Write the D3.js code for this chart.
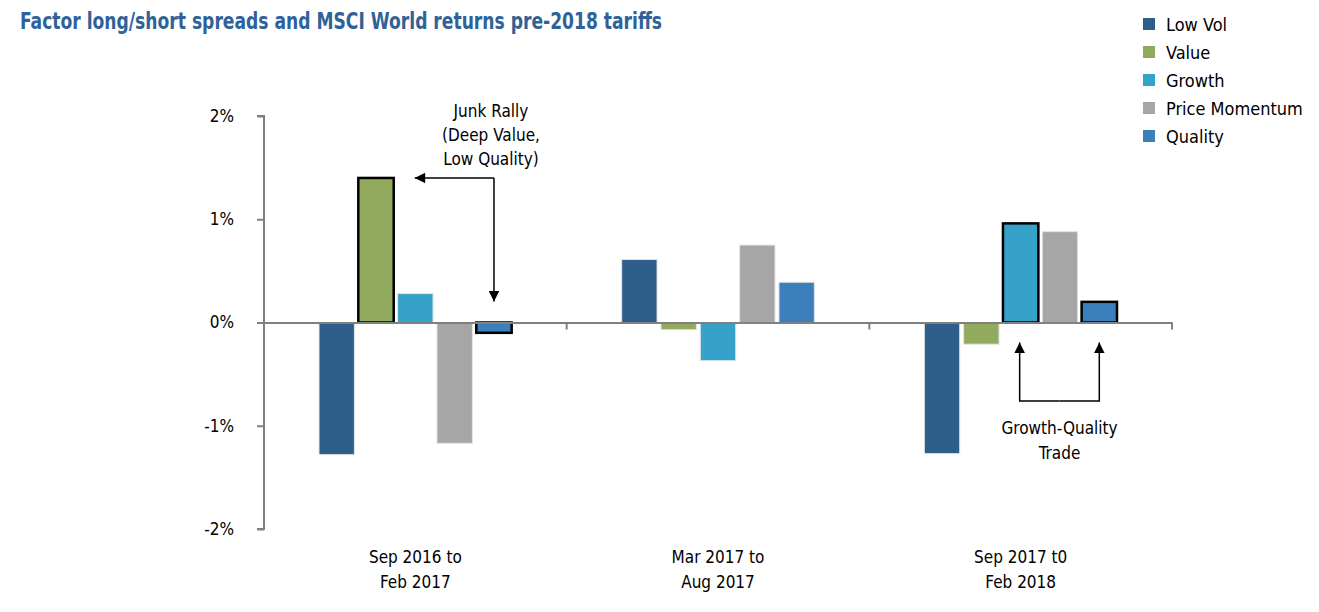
<!DOCTYPE html>
<html>
<head>
<meta charset="utf-8">
<script src="https://cdn.jsdelivr.net/npm/d3@7"></script>
<style>
  body { margin: 0; background: #fff; }
  text { font-family: "Liberation Sans Narrow", "DejaVu Sans Condensed", "Roboto Condensed", sans-serif; }
</style>
</head>
<body>
<script>
const SvgWidth = 1319, SvgHeight = 612;
var margin = {top: 116, right: 147, bottom: 83, left: 264};
var Width = SvgWidth - margin.left - margin.right;
var Height = SvgHeight - margin.top - margin.bottom;

// data (percent)
var periods = [["Sep 2016 to", "Feb 2017"], ["Mar 2017 to", "Aug 2017"], ["Sep 2017 t0", "Feb 2018"]];
var factors = ["Low Vol", "Value", "Growth", "Price Momentum", "Quality"];
var lowVol = [-1.28, 0.61, -1.27];
var value = [1.40, -0.07, -0.21];
var growth = [0.28, -0.37, 0.96];
var priceMomentum = [-1.17, 0.75, 0.88];
var quality = [-0.10, 0.39, 0.20];
var yTicks = [-2, -1, 0, 1, 2];
var colors = ["#2e5f8a", "#92aa5e", "#36a1c9", "#a6a6a6", "#3b80bc"];
// bars the annotations point at
var highlighted = [[0, "Value"], [0, "Quality"], [2, "Growth"], [2, "Quality"]];

var series = [lowVol, value, growth, priceMomentum, quality];
var rows = [];
periods.forEach(function(p, i){
  factors.forEach(function(f, j){
    rows.push({period: i, factor: f, value: series[j][i],
      hi: highlighted.some(function(h){ return h[0] === i && h[1] === f; })});
  });
});

var svg = d3.select('body')
  .append('svg')
  .attr('width', SvgWidth)
  .attr('height', SvgHeight)
  .style('background-color', 'white');

svg.append("text")
  .attr("x", 20).attr("y", 29)
  .attr("fill", "#2e6299")
  .attr("font-size", 23).attr("font-weight", "bold")
  .attr("textLength", 642).attr("lengthAdjust", "spacingAndGlyphs")
  .text("Factor long/short spreads and MSCI World returns pre-2018 tariffs");

var g = svg.append('g')
  .attr("transform", 'translate(' + margin.left + "," + margin.top + ")");

var x0 = d3.scaleBand().domain(d3.range(periods.length)).range([0, Width]);
var x1 = d3.scaleBand().domain(factors).range([55, x0.bandwidth() - 55]).paddingInner(0.1);
var y = d3.scaleLinear().domain([-2, 2]).range([Height, 0]);
var color = d3.scaleOrdinal().domain(factors).range(colors);

// bars
g.selectAll(".bar")
  .data(rows)
  .enter().append("rect")
  .attr("class", "bar")
  .attr("x", function(d){ return x0(d.period) + x1(d.factor); })
  .attr("y", function(d){ return y(Math.max(0, d.value)); })
  .attr("width", x1.bandwidth())
  .attr("height", function(d){ return Math.abs(y(d.value) - y(0)); })
  .attr("fill", function(d){ return color(d.factor); })
  .attr("stroke", function(d){ return d.hi ? "#000" : "#e4e4e4"; })
  .attr("stroke-width", function(d){ return d.hi ? 2.5 : 1; });

// y axis
var yAxis = g.append("g")
  .call(d3.axisLeft(y).tickValues(yTicks).tickSize(7).tickFormat(function(d){ return d + "%"; }));
yAxis.select(".domain").attr("stroke", "#808080").attr("stroke-width", 2).attr("d", "M-7," + y(-2) + "H0V" + y(2) + "H-7");
yAxis.selectAll(".tick line").attr("stroke", "#808080").attr("stroke-width", 2);
yAxis.selectAll(".tick text").attr("font-size", 17).attr("fill", "#000").attr("x", -30)
  .attr("font-family", "'Liberation Sans Narrow', 'DejaVu Sans Condensed', sans-serif");

// zero line with category ticks
var xAxis = g.append("g")
  .attr("transform", "translate(0," + y(0) + ")")
  .call(d3.axisBottom(x0).tickValues([]).tickSizeOuter(0));
xAxis.select(".domain").attr("stroke", "#808080").attr("stroke-width", 2);
xAxis.selectAll(".sep")
  .data(d3.range(1, periods.length + 1))
  .enter().append("line")
  .attr("class", "sep")
  .attr("x1", function(d){ return d * x0.step(); })
  .attr("x2", function(d){ return d * x0.step(); })
  .attr("y1", 0).attr("y2", 7)
  .attr("stroke", "#808080").attr("stroke-width", 2);

// category labels
var cat = g.selectAll(".cat")
  .data(periods)
  .enter().append("text")
  .attr("class", "cat")
  .attr("text-anchor", "middle")
  .attr("font-size", 17)
  .attr("transform", function(d, i){ return "translate(" + (x0(i) + x0.bandwidth() / 2) + "," + (Height + 34) + ")"; });
cat.selectAll("tspan")
  .data(function(d){ return d; })
  .enter().append("tspan")
  .attr("x", 0)
  .attr("dy", function(d, i){ return i ? 25 : 0; })
  .text(function(d){ return d; });

// legend
var legend = svg.append("g").attr("transform", "translate(1143,18)");
var li = legend.selectAll(".li")
  .data(factors)
  .enter().append("g")
  .attr("class", "li")
  .attr("transform", function(d, i){ return "translate(0," + i * 28 + ")"; });
li.append("rect").attr("width", 12).attr("height", 12).attr("fill", function(d){ return color(d); });
li.append("text").attr("x", 23).attr("y", 13).attr("font-size", 18).text(function(d){ return d; });

// annotations
svg.append("defs").append("marker")
  .attr("id", "arrow")
  .attr("viewBox", "0 0 10 10")
  .attr("refX", 10).attr("refY", 5)
  .attr("markerWidth", 8).attr("markerHeight", 7)
  .attr("markerUnits", "strokeWidth")
  .attr("orient", "auto")
  .append("path").attr("d", "M0,0L10,5L0,10Z").attr("fill", "#000");

function barCenter(p, f){ return x0(p) + x1(f) + x1.bandwidth() / 2; }

var valRight = x0(0) + x1("Value") + x1.bandwidth();
var qX = barCenter(0, "Quality");
var junkY = y(value[0]);
g.append("path")
  .attr("d", "M" + qX + "," + junkY + "H" + (valRight + 21))
  .attr("fill", "none").attr("stroke", "#000").attr("stroke-width", 1.5)
  .attr("marker-end", "url(#arrow)");
g.append("path")
  .attr("d", "M" + qX + "," + junkY + "V" + (y(0) - 21))
  .attr("fill", "none").attr("stroke", "#000").attr("stroke-width", 1.5)
  .attr("marker-end", "url(#arrow)");
var junk = g.append("text").attr("text-anchor", "middle").attr("font-size", 17)
  .attr("transform", "translate(" + (qX - 3) + "," + 1 + ")");
junk.selectAll("tspan").data(["Junk Rally", "(Deep Value,", "Low Quality)"])
  .enter().append("tspan").attr("x", 0).attr("dy", function(d, i){ return i ? 24 : 0; })
  .text(function(d){ return d; });

var gX = barCenter(2, "Growth") - 1, qX2 = barCenter(2, "Quality");
var baseY = y(-0.76);
g.append("path")
  .attr("d", "M" + ((gX + qX2) / 2) + "," + baseY + "H" + gX + "V" + (y(0) + 20))
  .attr("fill", "none").attr("stroke", "#000").attr("stroke-width", 1.5)
  .attr("marker-end", "url(#arrow)");
g.append("path")
  .attr("d", "M" + ((gX + qX2) / 2) + "," + baseY + "H" + qX2 + "V" + (y(0) + 20))
  .attr("fill", "none").attr("stroke", "#000").attr("stroke-width", 1.5)
  .attr("marker-end", "url(#arrow)");
var gq = g.append("text").attr("text-anchor", "middle").attr("font-size", 17)
  .attr("transform", "translate(" + ((gX + qX2) / 2) + "," + (baseY + 33) + ")");
gq.selectAll("tspan").data(["Growth-Quality", "Trade"])
  .enter().append("tspan").attr("x", 0).attr("dy", function(d, i){ return i ? 25 : 0; })
  .text(function(d){ return d; });
</script>
</body>
</html>
